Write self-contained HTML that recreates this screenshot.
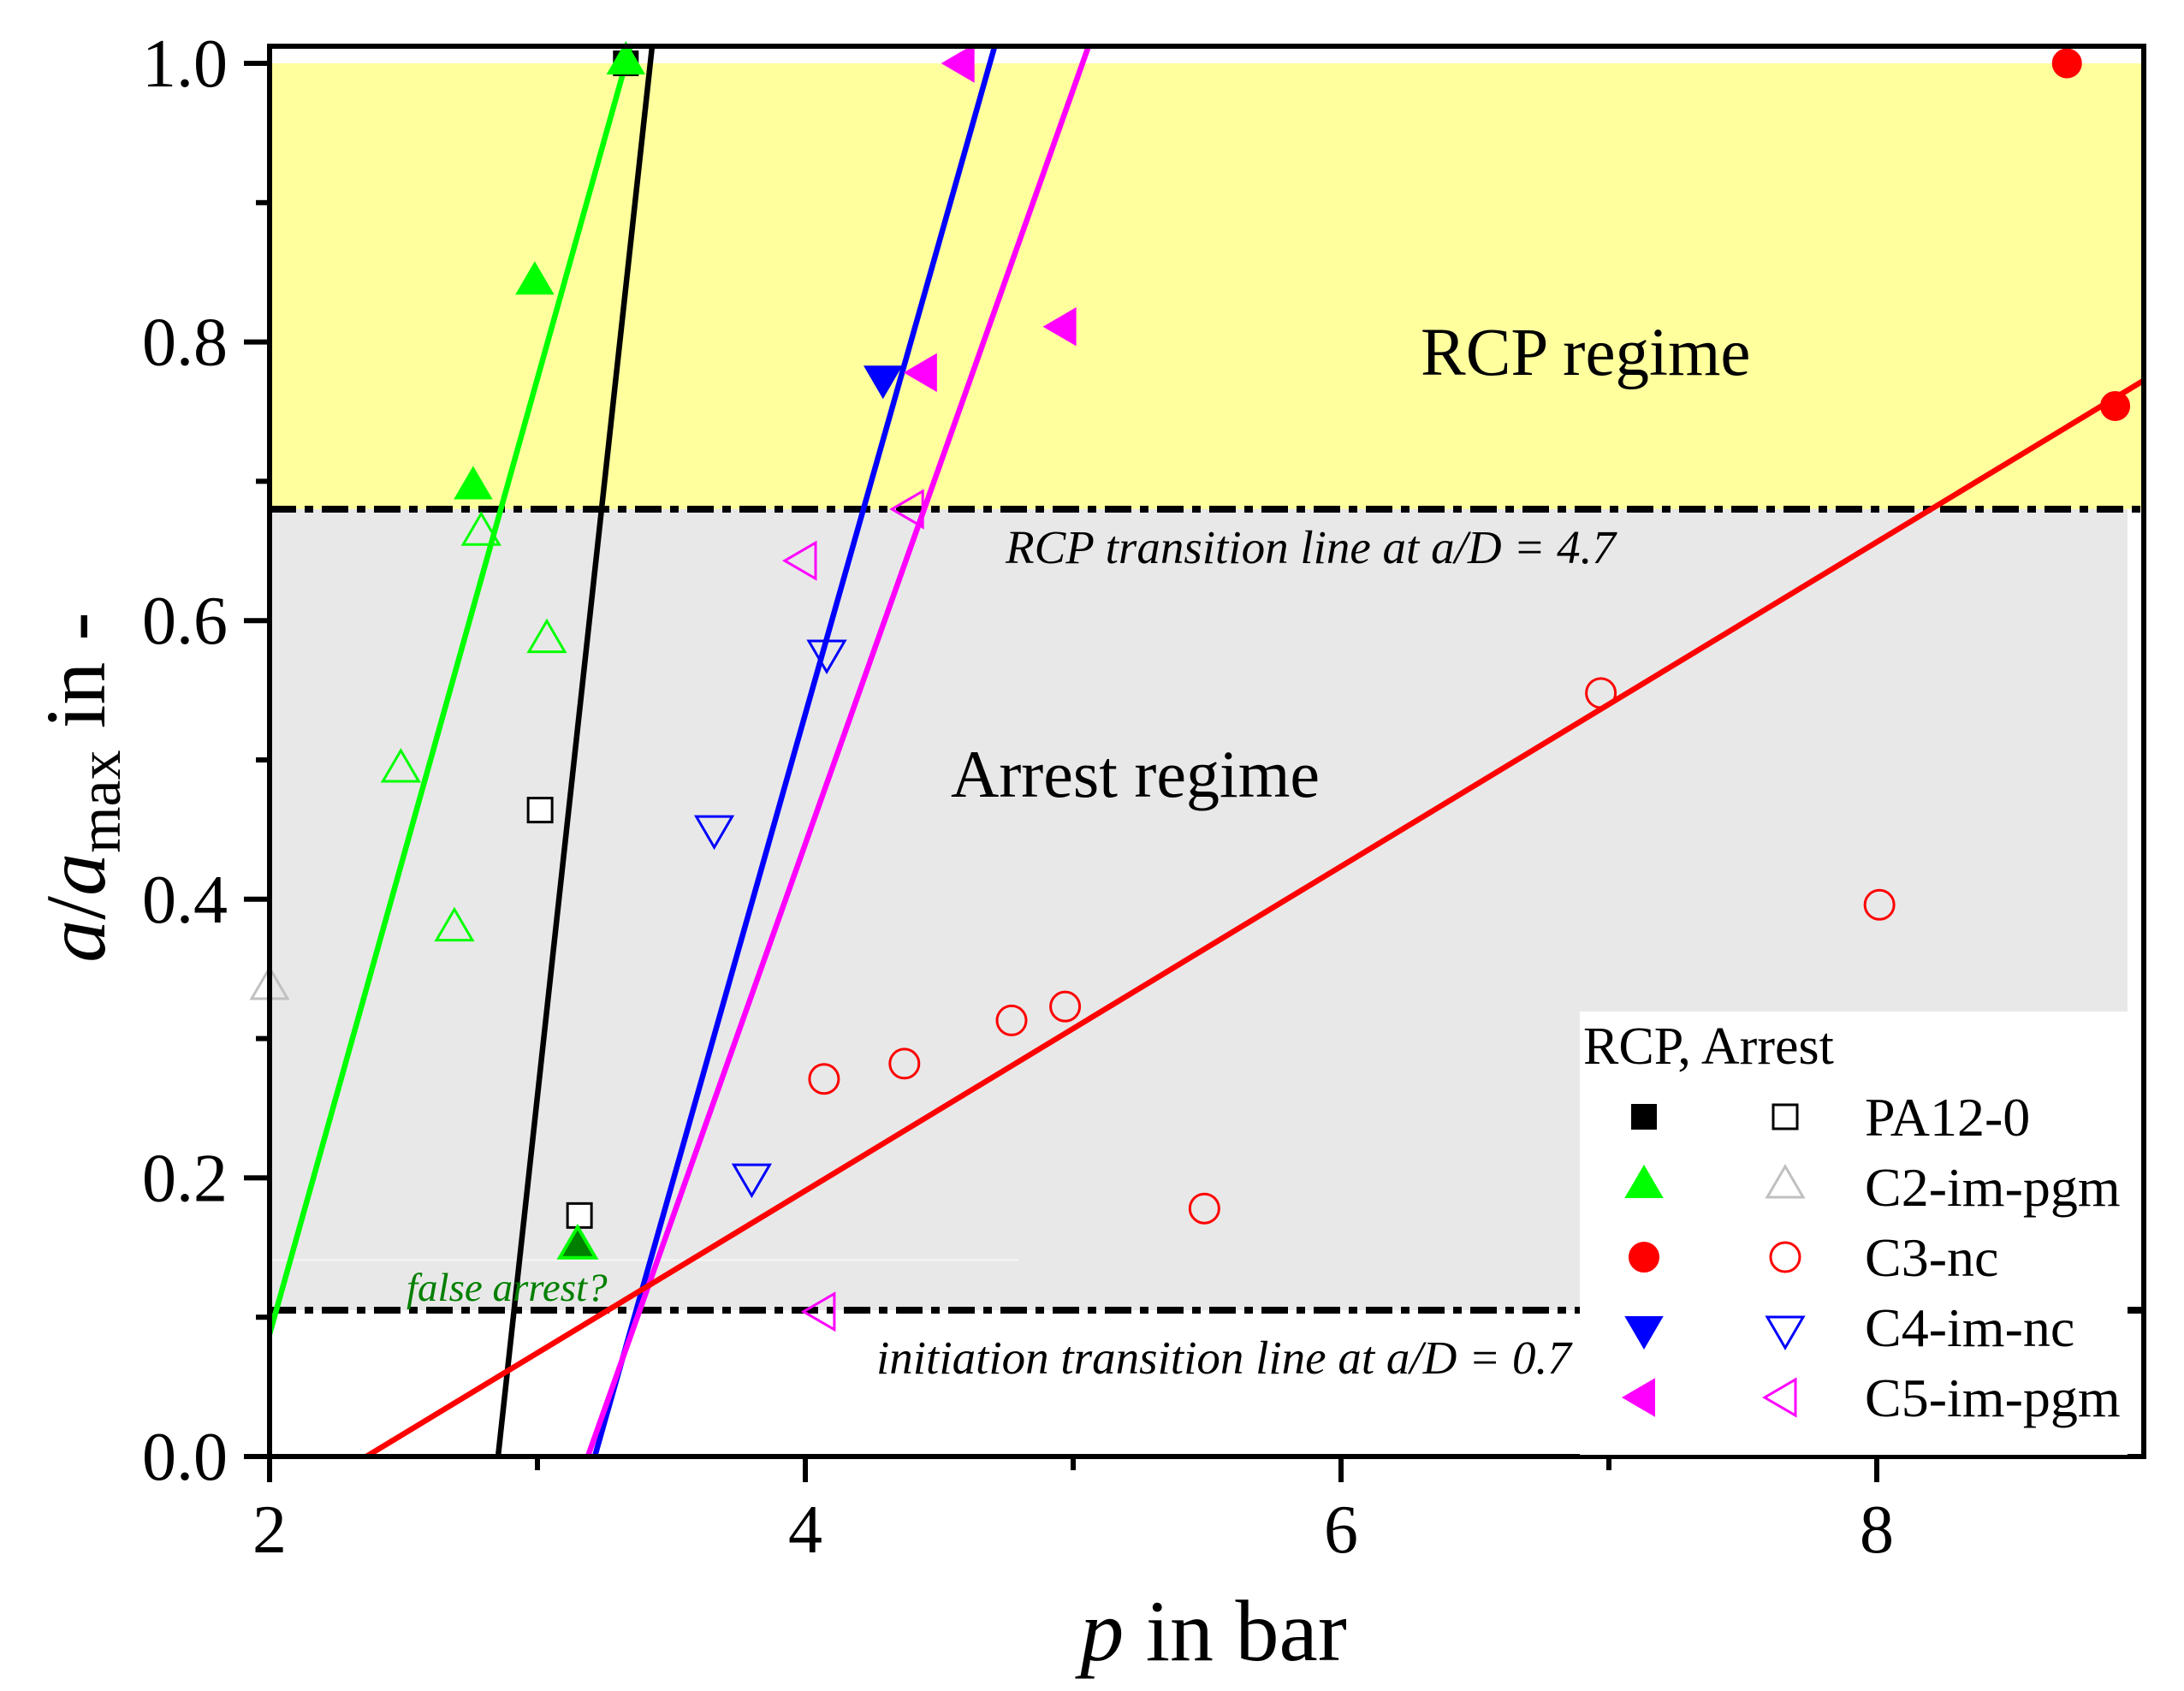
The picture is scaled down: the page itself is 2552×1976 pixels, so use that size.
<!DOCTYPE html>
<html><head><meta charset="utf-8">
<style>
html,body{margin:0;padding:0;background:#fff;overflow:hidden;width:2552px;height:1976px;}
svg{display:block;font-family:"Liberation Serif","DejaVu Serif",serif;}
</style></head>
<body>
<svg id="chart" width="2552" height="1976" viewBox="0 0 2552 1976" xmlns="http://www.w3.org/2000/svg">
  <g id="bg"></g>
  <g id="lines"></g>
  <g id="marks"></g>
  <g id="axes"></g>
  <g id="annot"></g>
  <g id="legend"></g>
</svg>
<script>
// ---- data ----
const xTicks = [2, 4, 6, 8];
const xMinor = [3, 5, 7];
const yTicks = [0.0, 0.2, 0.4, 0.6, 0.8, 1.0];
const yMinor = [0.1, 0.3, 0.5, 0.7, 0.9];
const rcpLevel = 0.68;
const initLevel = 0.105;
const arrestBottom = 0.105;

const pa12RcpX = [3.33];           const pa12RcpY = [1.0];
const pa12ArrX = [3.01, 3.157];    const pa12ArrY = [0.464, 0.173];
const c2RcpX = [3.33, 2.99, 2.76]; const c2RcpY = [1.0, 0.842, 0.695];
const c2ArrX = [2.0];              const c2ArrY = [0.336];
const c2OpenGreenX = [2.79, 3.035, 2.49, 2.69]; const c2OpenGreenY = [0.662, 0.585, 0.492, 0.378];
const c2FalseX = [3.15];           const c2FalseY = [0.150];
const c3RcpX = [8.71, 8.89];       const c3RcpY = [1.0, 0.754];
const c3ArrX = [4.07, 4.37, 4.77, 4.97, 5.49, 6.97, 8.01];
const c3ArrY = [0.271, 0.282, 0.313, 0.323, 0.178, 0.548, 0.396];
const c4RcpX = [4.29];             const c4RcpY = [0.775];
const c4ArrX = [4.08, 3.66, 3.80]; const c4ArrY = [0.578, 0.452, 0.202];
const c5RcpX = [4.59, 4.45, 4.97]; const c5RcpY = [1.0, 0.778, 0.811];
const c5ArrX = [4.40, 4.00, 4.07]; const c5ArrY = [0.680, 0.643, 0.104];

// fit lines: y = slope * (x - x0)
const fitNames = ['fit-c2', 'fit-pa12', 'fit-c4', 'fit-c5', 'fit-c3'];
const fitX0 = [1.872, 2.853, 3.214, 3.188, 2.361];
const fitSlope = [0.686, 1.76, 0.678, 0.5415, 0.1164];
const fitColors = ['#00ff00', '#000000', '#0000ff', '#ff00ff', '#ff0000'];

// ---- scales ----
const X0 = 315, X1 = 2505, PX = 313;
const Y0 = 1702, PY = 1628;
const YTOP = 54;
const sx = v => X0 + (v - 2) * PX;
const sy = v => Y0 - v * PY;
const NS = 'http://www.w3.org/2000/svg';
function mk(tag, attrs, parent) {
  const e = document.createElementNS(NS, tag);
  for (const k in attrs) e.setAttribute(k, attrs[k]);
  parent.appendChild(e);
  return e;
}
const svg = document.getElementById('chart');
const bg = document.getElementById('bg');
const lines = document.getElementById('lines');
const marks = document.getElementById('marks');
const axes = document.getElementById('axes');
const legend = document.getElementById('legend');

let r = mk('rect', {x: X0, y: sy(1.0), width: X1 - X0, height: sy(rcpLevel) - sy(1.0), fill: '#ffff9e'}, bg);


r = mk('rect', {x: X0, y: sy(rcpLevel), width: 2486 - X0, height: sy(arrestBottom) - sy(rcpLevel), fill: '#e8e8e8'}, bg);


r = mk('line', {x1: X0, x2: 1190, y1: sy(0.141), y2: sy(0.141), stroke: '#f6f6f6', 'stroke-width': 2}, bg);



[rcpLevel, initLevel].forEach((lv, i) => {
  const l = mk('line', {x1: X0, x2: X1, y1: sy(lv), y2: sy(lv), stroke: '#000', 'stroke-width': 8, 'stroke-dasharray': '31 10 10 10'}, bg);
  
  
});

const defs = mk('defs', {}, svg);
const cp = mk('clipPath', {id: 'clipP'}, defs);
mk('rect', {x: X0, y: YTOP, width: X1 - X0, height: Y0 - YTOP}, cp);
lines.setAttribute('clip-path', 'url(#clipP)');
fitNames.forEach((n, i) => {
  const xa = 1.5, xb = 9.5;
  const l = mk('line', {x1: sx(xa), y1: sy(fitSlope[i] * (xa - fitX0[i])), x2: sx(xb), y2: sy(fitSlope[i] * (xb - fitX0[i])), stroke: fitColors[i], 'stroke-width': 6.5}, lines);
  
  
});

function marker(type, cx, cy, fill, stroke, sw, parent) {
  let e;
  if (type === 'sq') e = mk('rect', {x: cx - 14, y: cy - 14, width: 28, height: 28, fill, stroke, 'stroke-width': sw}, parent);
  else if (type === 'circ') e = mk('circle', {cx, cy, r: 17, fill, stroke, 'stroke-width': sw}, parent);
  else if (type === 'up') e = mk('polygon', {points: `${cx},${cy - 24} ${cx + 21},${cy + 12} ${cx - 21},${cy + 12}`, fill, stroke, 'stroke-width': sw}, parent);
  else if (type === 'down') e = mk('polygon', {points: `${cx},${cy + 24} ${cx + 21},${cy - 12} ${cx - 21},${cy - 12}`, fill, stroke, 'stroke-width': sw}, parent);
  else if (type === 'left') e = mk('polygon', {points: `${cx - 24},${cy} ${cx + 12},${cy - 21} ${cx + 12},${cy + 21}`, fill, stroke, 'stroke-width': sw}, parent);
  return e;
}
function series(name, xs, ys, type, fill, stroke, sw) {
  xs.forEach((xv, i) => {
    const e = marker(type, sx(xv), sy(ys[i]), fill, stroke, sw, marks);
    
    
  });
}
series('pa12-rcp', pa12RcpX, pa12RcpY, 'sq', '#000', '#000', 2);
series('pa12-arrest', pa12ArrX, pa12ArrY, 'sq', '#fff', '#000', 3);
series('c2-rcp', c2RcpX, c2RcpY, 'up', '#00ff00', '#00ff00', 2);
series('c2-arrest', c2ArrX, c2ArrY, 'up', 'none', '#c0c0c0', 3);
series('c2-arrest-green', c2OpenGreenX, c2OpenGreenY, 'up', 'none', '#00ff00', 3);
series('c2-false-arrest', c2FalseX, c2FalseY, 'up', '#007f00', '#00ff00', 4);
series('c3-rcp', c3RcpX, c3RcpY, 'circ', '#ff0000', '#ff0000', 1);
series('c3-arrest', c3ArrX, c3ArrY, 'circ', 'none', '#ff0000', 3);
series('c4-rcp', c4RcpX, c4RcpY, 'down', '#0000ff', '#0000ff', 2);
series('c4-arrest', c4ArrX, c4ArrY, 'down', 'none', '#0000ff', 3);
series('c5-rcp', c5RcpX, c5RcpY, 'left', '#ff00ff', '#ff00ff', 2);
series('c5-arrest', c5ArrX, c5ArrY, 'left', 'none', '#ff00ff', 3);

const lg = mk('rect', {x: 1846, y: 1182, width: 640, height: 518, fill: '#fff'}, legend);


let t = mk('text', {x: 1850, y: 1243, 'font-size': 62}, legend);
t.textContent = 'RCP, Arrest';


const legNames = ['PA12-0', 'C2-im-pgm', 'C3-nc', 'C4-im-nc', 'C5-im-pgm'];
const legTypes = ['sq', 'up', 'circ', 'down', 'left'];
const legFill = ['#000', '#00ff00', '#ff0000', '#0000ff', '#ff00ff'];
const legOpen = ['#000', '#c0c0c0', '#ff0000', '#0000ff', '#ff00ff'];
legNames.forEach((n, i) => {
  const cy = 1305 + i * 82;
  let e = marker(legTypes[i], 1921, cy, legFill[i], legFill[i], 2, legend);
  
  
  e = marker(legTypes[i], 2086, cy, legTypes[i] === 'sq' ? '#fff' : 'none', legOpen[i], 3, legend);
  
  
  const tx = mk('text', {x: 2179, y: cy + 22, 'font-size': 64}, legend);
  tx.textContent = n;
  
  
});
mk('line', {x1: 2486, x2: X1, y1: sy(initLevel), y2: sy(initLevel), stroke: '#000', 'stroke-width': 8}, legend);

const fr = mk('rect', {x: X0, y: YTOP, width: X1 - X0, height: Y0 - YTOP, fill: 'none', stroke: '#000', 'stroke-width': 6}, axes);


xTicks.forEach(v => {
  const l = mk('line', {x1: sx(v), x2: sx(v), y1: Y0, y2: Y0 + 30, stroke: '#000', 'stroke-width': 6}, axes);
  
  
  const tx = mk('text', {x: sx(v), y: Y0 + 112, 'font-size': 80, 'text-anchor': 'middle'}, axes);
  tx.textContent = String(v);
  
  
});
xMinor.forEach(v => {
  const l = mk('line', {x1: sx(v), x2: sx(v), y1: Y0, y2: Y0 + 16, stroke: '#000', 'stroke-width': 6}, axes);
  
  
});
yTicks.forEach(v => {
  const l = mk('line', {x1: X0 - 30, x2: X0, y1: sy(v), y2: sy(v), stroke: '#000', 'stroke-width': 6}, axes);
  
  
  const tx = mk('text', {x: 266, y: sy(v) + 27, 'font-size': 80, 'text-anchor': 'end'}, axes);
  tx.textContent = v.toFixed(1);
  
  
});
yMinor.forEach(v => {
  const l = mk('line', {x1: X0 - 16, x2: X0, y1: sy(v), y2: sy(v), stroke: '#000', 'stroke-width': 6}, axes);
  
  
});
</script>
<script>
(function(){
  const NS='http://www.w3.org/2000/svg';
  const a=document.getElementById('annot');
  function txt(x,y,size,content,name,extra){
    const e=document.createElementNS(NS,'text');
    e.setAttribute('x',x);e.setAttribute('y',y);e.setAttribute('font-size',size);
    if(extra)for(const k in extra)e.setAttribute(k,extra[k]);
    e.innerHTML=content;
    
    
    a.appendChild(e);return e;
  }
  txt(1660,438,79,'RCP regime','rcp-regime-label');
  txt(1111,931,78,'Arrest regime','arrest-regime-label');
  txt(1175,658,55,'RCP transition line at a/D = 4.7','rcp-transition-label',{'font-style':'italic'});
  txt(1024,1605,55,'initiation transition line at a/D = 0.7','initiation-transition-label',{'font-style':'italic'});
  txt(475,1520,47,'false arrest?','false-arrest-label',{'font-style':'italic',fill:'#007f00'});
  txt(1418,1940,102,'<tspan font-style="italic">p</tspan> in bar','x-axis-title',{'text-anchor':'middle'});
  txt(0,0,100,'<tspan font-style="italic">a</tspan>/<tspan font-style="italic">a</tspan><tspan font-size="70" dy="18">max</tspan><tspan dy="-18"> in -</tspan>','y-axis-title',{'text-anchor':'middle',transform:'translate(122,920) rotate(-90)'});
})();
</script>
</body></html>
